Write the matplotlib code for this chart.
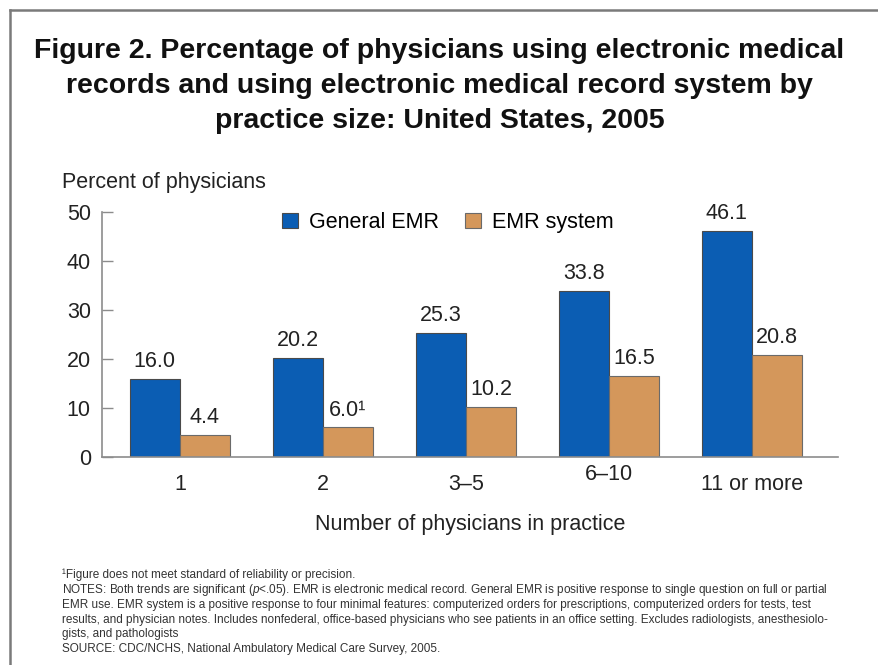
import matplotlib.pyplot as plt
import numpy as np
from matplotlib.lines import Line2D
from matplotlib.transforms import ScaledTranslation

# Datos
sizes = ['1', '2', '3\u20135', '6\u201310', '11 or more']
general_emr = [16.0, 20.2, 25.3, 33.8, 46.1]
emr_system = [4.4, 6.0, 10.2, 16.5, 20.8]
general_lbl = ['16.0', '20.2', '25.3', '33.8', '46.1']
system_lbl = ['4.4', '6.0\u00b9', '10.2', '16.5', '20.8']

title = ('Figure 2. Percentage of physicians using electronic medical\n'
         'records and using electronic medical record system by\n'
         'practice size: United States, 2005')
notes = [
    '\u00b9Figure does not meet standard of reliability or precision.',
    'NOTES: Both trends are significant ($\\it{p}$<.05). EMR is electronic medical record. General EMR is positive response to single question on full or partial',
    'EMR use. EMR system is a positive response to four minimal features: computerized orders for prescriptions, computerized orders for tests, test',
    'results, and physician notes. Includes nonfederal, office-based physicians who see patients in an office setting. Excludes radiologists, anesthesiolo-',
    'gists, and pathologists',
    'SOURCE: CDC/NCHS, National Ambulatory Medical Care Survey, 2005.',
]

plt.rcParams['font.family'] = ['Liberation Sans', 'DejaVu Sans']
plt.rcParams['mathtext.fontset'] = 'custom'
plt.rcParams['mathtext.it'] = 'Liberation Sans:italic'

blue = '#0b5db3'
tan = '#d4975b'
gris = '#8c8c8c'
fs = 15.5

fig = plt.figure(figsize=(8.79, 6.65), dpi=100)
ax = fig.add_axes([0.116, 0.313, 0.837, 0.368])

x = np.arange(len(sizes))
w = 0.35
b1 = ax.bar(x - w/2, general_emr, w, color=blue, edgecolor='#4a4a4a', linewidth=0.8, label='General EMR')
b2 = ax.bar(x + w/2, emr_system, w, color=tan, edgecolor='#6a6a6a', linewidth=0.8, label='EMR system')
ax.bar_label(b1, labels=general_lbl, padding=5, fontsize=fs, color='#222222')
ax.bar_label(b2, labels=system_lbl, padding=5, fontsize=fs, color='#222222')

ax.set_ylim(0, 50)
ax.set_xlim(-0.545, 4.6)
ax.set_yticks(range(0, 51, 10))
ax.tick_params(axis='y', direction='in', length=8, width=1, color=gris, labelsize=fs, pad=8, labelcolor='#222222')
ax.set_xticks(x)
ax.set_xticklabels(sizes)
ax.tick_params(axis='x', length=0, labelsize=fs, pad=12, labelcolor='#222222')
# la etiqueta 6-10 esta un poco mas arriba en el original
lab = ax.get_xticklabels()[3]
lab.set_transform(lab.get_transform() + ScaledTranslation(0, 7/72, fig.dpi_scale_trans))

for s in ['top', 'right']:
    ax.spines[s].set_visible(False)
for s in ['left', 'bottom']:
    ax.spines[s].set_color(gris)
    ax.spines[s].set_linewidth(1.2)

ax.set_xlabel('Number of physicians in practice', fontsize=fs, labelpad=14, color='#222222')
fig.text(0.0705, 0.725, 'Percent of physicians', fontsize=fs, color='#222222', va='center')

ax.legend(loc='upper center', bbox_to_anchor=(0.47, 1.08), ncol=2, frameon=False,
          fontsize=fs, handlelength=0.75, handleheight=0.75, handletextpad=0.5,
          columnspacing=1.2)

fig.text(0.5, 0.943, title, ha='center', va='top', fontsize=20.5, fontweight='bold',
         linespacing=1.46, color='#111111')

y0 = 0.135
for i, t in enumerate(notes):
    fig.text(0.0705, y0 - i*0.0222, t, fontsize=8.5, color='#333333', va='center')

# marco gris
fig.add_artist(Line2D([0.0115, 0.0115], [0, 0.985], color='#7a7a7a', linewidth=1.8, transform=fig.transFigure))
fig.add_artist(Line2D([0.0115, 1], [0.985, 0.985], color='#7a7a7a', linewidth=1.8, transform=fig.transFigure))

plt.savefig('out.png', dpi=100)
